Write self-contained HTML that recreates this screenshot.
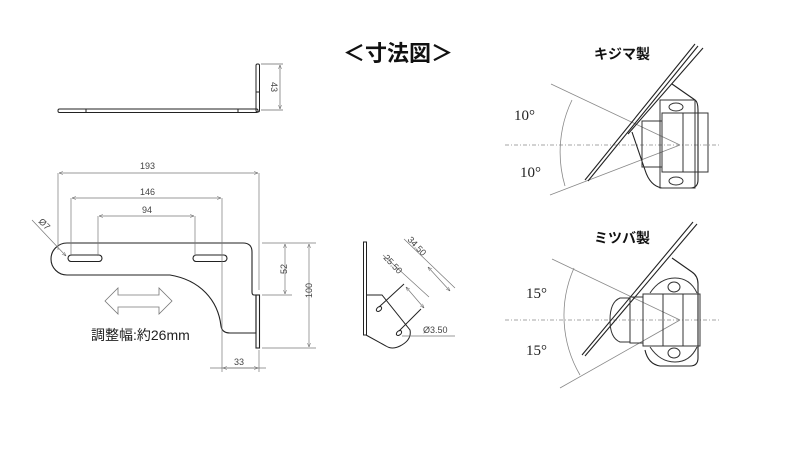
<!DOCTYPE html>
<html><head><meta charset="utf-8"><style>
html,body{margin:0;padding:0;background:#fff;}
svg{display:block;}
text{font-family:"Liberation Sans","Noto Sans CJK JP",sans-serif;}
text.s{font-family:"Liberation Serif",serif;}
</style></head><body>
<svg width="800" height="450" viewBox="0 0 800 450" xmlns="http://www.w3.org/2000/svg">
<defs>
<marker id="a" viewBox="0 0 10 10" refX="10" refY="5" markerWidth="6" markerHeight="6" orient="auto-start-reverse"><path d="M0,1 L10,5 L0,9" fill="none" stroke="#555" stroke-width="1"/></marker>
</defs>
<text x="343" y="61" font-size="22" font-weight="bold" fill="#111">＜寸法図＞</text>

<g stroke="#222" stroke-width="1" fill="none">
<rect x="58" y="109" width="200" height="3.5" rx="1.5"/>
<rect x="256" y="64" width="3.5" height="48" rx="1.5"/>
<line x1="86" y1="109" x2="86" y2="112.5"/><line x1="238" y1="109" x2="238" y2="112.5"/><line x1="256" y1="92" x2="259.5" y2="92"/>
</g>
<g stroke="#666" stroke-width="0.7" fill="none">
<line x1="261" y1="64" x2="283" y2="64"/><line x1="261" y1="110" x2="283" y2="110"/>
<line x1="280" y1="65" x2="280" y2="109" marker-start="url(#a)" marker-end="url(#a)"/>
</g>
<text font-size="9" fill="#444" transform="translate(271,82) rotate(90)">43</text>

<g stroke="#222" stroke-width="1.1" fill="none">
<path d="M243,243 H67 A16,16 0 0 0 67,275 H170 C200,280 218,300 221,326 Q222,333 230,333 H256 V295 H254 Q252,295 252,292 V252 Q252,243 243,243 Z"/>
<rect x="68" y="255" width="34" height="6.5" rx="3.2"/>
<rect x="193" y="255" width="34" height="6.5" rx="3.2"/>
<rect x="256" y="295" width="3.5" height="53" />
</g>
<g stroke="#777" stroke-width="0.7" fill="none">
<line x1="58" y1="173" x2="58" y2="250"/><line x1="259" y1="173" x2="259" y2="290"/>
<line x1="59" y1="173" x2="258" y2="173" marker-start="url(#a)" marker-end="url(#a)"/>
<line x1="71" y1="198" x2="71" y2="256"/><line x1="222" y1="198" x2="222" y2="372"/>
<line x1="72" y1="198" x2="221" y2="198" marker-start="url(#a)" marker-end="url(#a)"/>
<line x1="98" y1="216" x2="98" y2="256"/><line x1="195" y1="216" x2="195" y2="256"/>
<line x1="99" y1="216" x2="194" y2="216" marker-start="url(#a)" marker-end="url(#a)"/>
<line x1="262" y1="243" x2="316" y2="243"/><line x1="262" y1="295" x2="292" y2="295"/><line x1="262" y1="348" x2="316" y2="348"/>
<line x1="285" y1="244" x2="285" y2="294" marker-start="url(#a)" marker-end="url(#a)"/>
<line x1="309" y1="244" x2="309" y2="347" marker-start="url(#a)" marker-end="url(#a)"/>
<line x1="259" y1="350" x2="259" y2="372"/>
<line x1="210" y1="368" x2="266" y2="368"/>
<line x1="223" y1="368" x2="258" y2="368" marker-start="url(#a)" marker-end="url(#a)"/>
<line x1="32" y1="220" x2="66" y2="256" marker-end="url(#a)"/>
</g>
<text x="140" y="169" font-size="9" fill="#444">193</text>
<text x="140" y="195" font-size="9" fill="#444">146</text>
<text x="142" y="213" font-size="9" fill="#444">94</text>
<text font-size="9" fill="#444" transform="translate(287,274) rotate(-90)">52</text>
<text font-size="9" fill="#444" transform="translate(312,298) rotate(-90)">100</text>
<text x="234" y="365" font-size="9" fill="#444">33</text>
<text font-size="9" fill="#444" transform="translate(38,222) rotate(-135) scale(-1,-1)">Ø7</text>
<path d="M105,301 L118,288 V295 H159 V288 L172,301 L159,314 V307 H118 V314 Z" fill="none" stroke="#777" stroke-width="0.8"/>
<text x="91" y="340" font-size="14" fill="#222">調整幅:約26mm</text>

<g stroke="#222" stroke-width="1" fill="none">
<rect x="363.5" y="242" width="3" height="93"/>
<path d="M366,295 H382 L410,330 Q412,340 400,346 Q392,350 386,346 L366,335"/>
<ellipse cx="379" cy="309" rx="3" ry="2" transform="rotate(-40 379 309)"/>
<ellipse cx="399" cy="333" rx="3" ry="2" transform="rotate(-40 399 333)"/>
<line x1="379" y1="307" x2="404" y2="284"/><line x1="399" y1="331" x2="421" y2="309"/>
</g>
<g stroke="#777" stroke-width="0.7" fill="none">
<line x1="383" y1="255" x2="429" y2="297"/><line x1="404" y1="239" x2="455" y2="288"/>
<line x1="406" y1="287" x2="424" y2="308" marker-start="url(#a)" marker-end="url(#a)"/>
<line x1="428" y1="267" x2="450" y2="291" marker-start="url(#a)" marker-end="url(#a)"/>
<line x1="402" y1="336" x2="455" y2="336"/>
</g>
<text font-size="9" fill="#444" transform="translate(383,258) rotate(47)">25.50</text>
<text font-size="9" fill="#444" transform="translate(407,240) rotate(47)">34.50</text>
<text x="423" y="333" font-size="9" fill="#444">Ø3.50</text>

<!-- kijima -->
<text x="594" y="59" font-size="14" font-weight="bold" fill="#111">キジマ製</text>
<g stroke="#888" stroke-width="0.8" fill="none">
<line x1="505" y1="145" x2="720" y2="145" stroke-dasharray="4,2,1,2"/>
<line x1="680" y1="145" x2="551" y2="84"/><line x1="680" y1="145" x2="550" y2="195"/>
<path d="M572,100 A120,120 0 0 0 565,186"/>
</g>
<g stroke="#222" stroke-width="1.1" fill="none">
<line x1="585" y1="180" x2="695" y2="44"/><line x1="588" y1="181" x2="698" y2="46"/>
<line x1="628" y1="134" x2="703" y2="48"/>
<path d="M672,84 L695,100 Q698,102 698,110 V180 Q698,188 690,188 H662 Q650,186 645,170 L632,132"/>
</g>
<g stroke="#333" stroke-width="1" fill="none">
<rect x="660" y="100" width="35" height="88"/>
<rect x="662" y="113" width="46" height="59"/>
<rect x="642" y="121" width="20" height="46"/>
<line x1="683" y1="113" x2="683" y2="172"/>
<ellipse cx="676" cy="107" rx="7" ry="4"/><ellipse cx="676" cy="181" rx="7" ry="4"/>
</g>
<text class="s" x="514" y="120" font-size="15" fill="#222">10°</text>
<text class="s" x="520" y="177" font-size="15" fill="#222">10°</text>

<!-- mitsuba -->
<text x="594" y="243" font-size="14" font-weight="bold" fill="#111">ミツバ製</text>
<g stroke="#888" stroke-width="0.8" fill="none">
<line x1="505" y1="320" x2="720" y2="320" stroke-dasharray="4,2,1,2"/>
<line x1="680" y1="320" x2="552" y2="259"/><line x1="680" y1="320" x2="560" y2="388"/>
<path d="M574,268 A118,118 0 0 0 580,375"/>
</g>
<g stroke="#222" stroke-width="1.1" fill="none">
<line x1="582" y1="355" x2="693" y2="222"/><line x1="585" y1="356" x2="697" y2="224"/>
<path d="M672,258 L692,272 Q698,276 698,284 V358 Q698,366 690,366 H660 Q648,364 645,350"/>
</g>
<g stroke="#333" stroke-width="1" fill="none">
<path d="M650,293 Q660,278 675,278 Q690,278 697,293 M650,347 Q660,362 675,362 Q690,362 697,347"/>
<rect x="643" y="294" width="57" height="52"/>
<line x1="663" y1="294" x2="663" y2="346"/><line x1="683" y1="294" x2="683" y2="346"/>
<rect x="630" y="297" width="13" height="46"/>
<path d="M630,298 H620 Q610,302 610,320 Q610,338 620,342 H630"/>
<ellipse cx="674" cy="287" rx="6" ry="5"/><ellipse cx="674" cy="353" rx="6" ry="5"/>
</g>
<text class="s" x="526" y="298" font-size="15" fill="#222">15°</text>
<text class="s" x="526" y="355" font-size="15" fill="#222">15°</text>
</svg>
</body></html>
